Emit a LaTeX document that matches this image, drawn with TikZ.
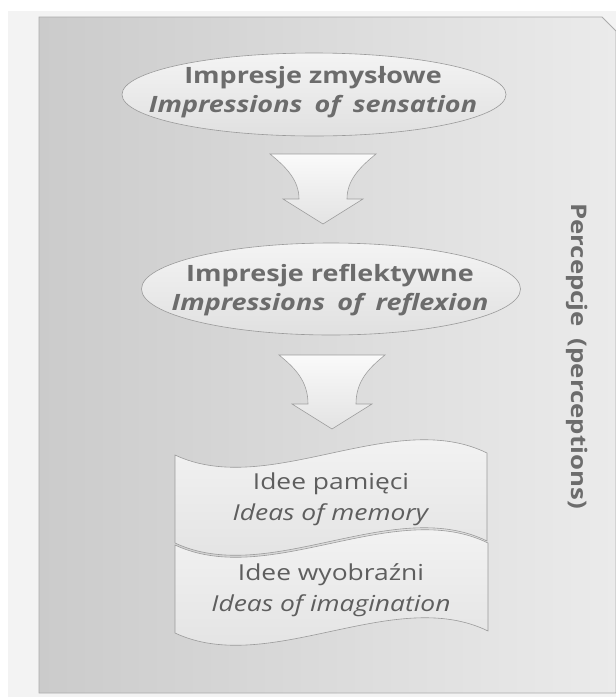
\documentclass[tikz,border=0pt]{standalone}
\usepackage{fontspec}
\setmainfont{Open Sans}[FakeStretch=1.2]
\usetikzlibrary{shapes.geometric}
\definecolor{pagegray}{HTML}{F3F3F3}
\definecolor{panelleft}{HTML}{CBCBCB}
\definecolor{panelright}{HTML}{EBEBEB}
\definecolor{inkgray}{HTML}{6C6C6C}
\definecolor{textgray}{HTML}{5E5E5E}
\definecolor{linegray}{HTML}{9A9A9A}
\tikzset{
  bubble/.style={ellipse, draw=linegray, line width=0.6pt, top color=gray!9, bottom color=gray!24, inner sep=0pt},
  arrowblock/.style={draw=gray!75, line width=0.6pt, top color=gray!4, bottom color=gray!22},
  tapeblock/.style={draw=linegray, line width=0.6pt, top color=gray!7, bottom color=gray!24},
  boldlabel/.style={text=inkgray, font=\fontsize{22.5}{29}\selectfont\bfseries, align=center},
  plainlabel/.style={text=textgray, font=\fontsize{22}{31}\selectfont, align=center}
}
\newcommand{\gap}{\hspace{0.55em}}
% block arrow: centre x, top y, tip y
\newcommand{\downblock}[3]{\draw[arrowblock] ( #1 - 53 , #2 ) -- ( #1 + 53 , #2 ) .. controls ( #1 + 37 , #2 + 13 ) and ( #1 + 24 , #2 + 26 ) .. ( #1 + 24 , #3 - 25 ) -- ( #1 + 40 , #3 - 25 ) -- ( #1 , #3 ) -- ( #1 - 40 , #3 - 25 ) -- ( #1 - 24 , #3 - 25 ) .. controls ( #1 - 24 , #2 + 26 ) and ( #1 - 37 , #2 + 13 ) .. ( #1 - 53 , #2 ) -- cycle;}
% wavy tape: left x, top-left y, width, height
\newcommand{\tape}[4]{\draw[tapeblock] ( #1 , #2 ) .. controls ( #1 + 0.3 * #3 , #2 + 44 ) and ( #1 + 0.7 * #3 , #2 - 48 ) .. ( #1 + #3 , #2 - 2 ) -- ( #1 + #3 , #2 - 2 + #4 ) .. controls ( #1 + 0.7 * #3 , #2 + #4 - 48 ) and ( #1 + 0.3 * #3 , #2 + #4 + 44 ) .. ( #1 , #2 + #4 ) -- cycle;}

\begin{document}
\begin{tikzpicture}[x=1pt, y=-1pt]
    \useasboundingbox (0,0) rectangle (616,697);
    % background
    \fill[pagegray] (8,11) rectangle (616,697);
    \path[draw=gray!65, line width=0.8pt, left color=panelleft, right color=panelright] (39,17) -- (602,17) -- (616,31) -- (616,693) -- (39,693) -- cycle;
    % impressions
    \node[bubble, minimum width=384pt, minimum height=83pt] (zmysl) at (314,94.5) {};
    \node[boldlabel] (zmysltxt) at (313,92) {Impresje zmysłowe\\\textit{Impressions\gap of\gap sensation}};
    \downblock{323}{154}{224}
    \node[bubble, minimum width=379pt, minimum height=92pt] (refl) at (331,289) {};
    \node[boldlabel] (refltxt) at (330,290) {Impresje reflektywne\\\textit{Impressions\gap of\gap reflexion}};
    \downblock{332}{355}{429}
    % ideas
    \tape{175}{455}{312}{88}
    \node[plainlabel] (pamiec) at (331,499) {Idee pamięci\\\textit{Ideas of memory}};
    \tape{175}{545}{313}{88}
    \node[plainlabel] (wyobraz) at (331,590) {Idee wyobraźni\\\textit{Ideas of imagination}};
    % side label
    \node[boldlabel, font=\fontsize{21.5}{26}\selectfont\bfseries, rotate=-90] (percepcje) at (577,356) {Percepcje\gap (perceptions)};
\end{tikzpicture}
\end{document}
